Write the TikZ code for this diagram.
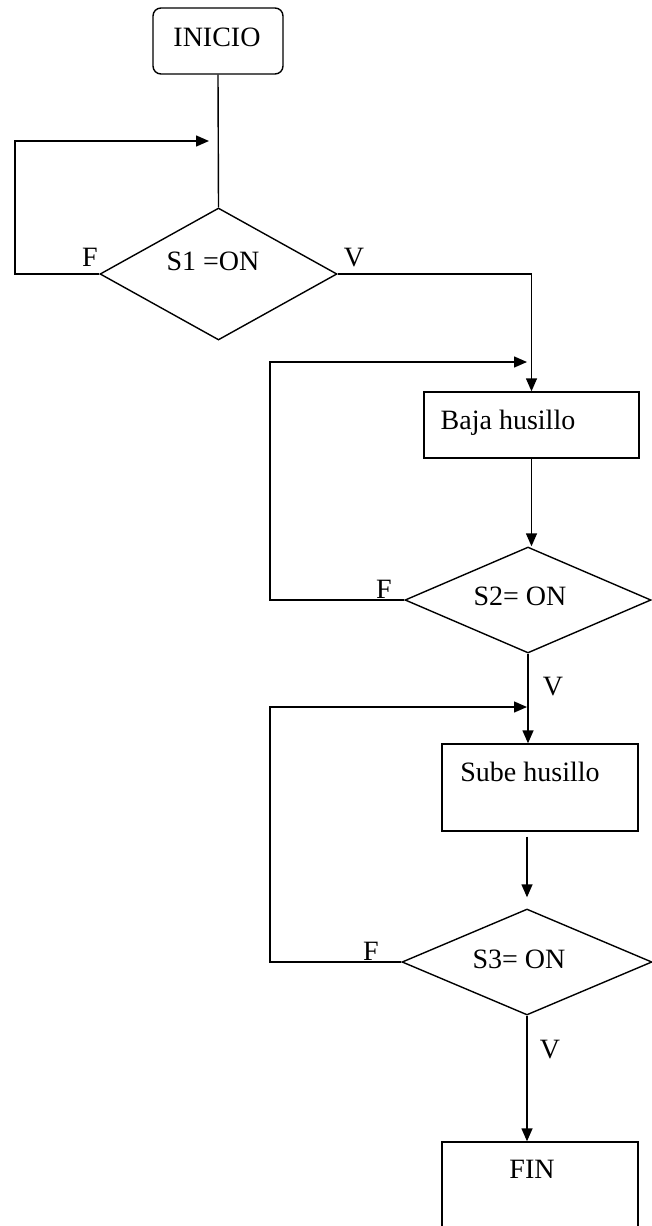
\documentclass[tikz,border=0pt]{standalone}
\usepackage{fontspec}
\setmainfont{Liberation Serif}
\usetikzlibrary{shapes.geometric,arrows.meta,calc}
\begin{document}
\begin{tikzpicture}[x=1pt,y=-1pt, line width=1.4pt,
  box/.style={draw, rectangle, inner sep=0pt},
  dec/.style={draw, diamond, inner sep=0pt},
  txt/.style={anchor=base, inner sep=0pt, font=\fontsize{28}{33}\selectfont},
  arr/.style={-{Triangle[length=13pt,width=11pt]}}]
\useasboundingbox (0,0) rectangle (652,1226);
\clip (0,0) rectangle (652,1226);

% shapes
\node[box, rounded corners=8pt, minimum width=130pt, minimum height=66pt] (inicio) at (218,41) {};
\node[dec, minimum width=237pt, minimum height=132pt] (d1) at (218.5,274) {};
\node[box, minimum width=215pt, minimum height=66pt] (baja) at (531.5,425) {};
\node[dec, minimum width=246pt, minimum height=106pt] (d2) at (528,600) {};
\node[box, minimum width=196pt, minimum height=87pt] (sube) at (540,787.5) {};
\node[dec, minimum width=250pt, minimum height=106pt] (d3) at (527,962) {};
\node[box, minimum width=196pt, minimum height=98pt] (fin) at (540,1191) {};

% texts
\node[txt] (tinicio) at (217,46.5) {INICIO};
\node[txt] (td1) at (213,270) {S1 =ON};
\node[txt] (f1) at (90,266.5) {F};
\node[txt] (v1) at (354,266.5) {V};
\node[txt] (tbaja) at (508,429) {Baja husillo};
\node[txt] (td2) at (520,605) {S2= ON};
\node[txt] (f2) at (384,598) {F};
\node[txt] (v2) at (553,695) {V};
\node[txt] (tsube) at (530,781.5) {Sube husillo};
\node[txt] (td3) at (519,968) {S3= ON};
\node[txt] (f3) at (371,960) {F};
\node[txt] (v3) at (550,1058) {V};
\node[txt] (tfin) at (532,1178) {FIN};

% loop corners and free ends
\coordinate (c1) at (15,141);
\coordinate (a1) at (209,141);
\coordinate (c2) at (270,362);
\coordinate (a2) at (527,362);
\coordinate (c3) at (270,707);
\coordinate (a3) at (527,707);

% connectors
\draw (inicio.south) -- (d1.north);
\draw[arr] (d1.west) -| (c1) -- (a1);
\draw[arr] (d1.east) -| (baja.north);
\draw[arr] (d2.west) -| (c2) -- (a2);
\draw[arr] (baja.south) -- (baja.south |- d2.north);
\draw[arr] (d2.south) -- (d2.south |- sube.north);
\draw[arr] (d3.west) -| (c3) -- (a3);
\draw[arr] ($(d3.north |- sube.south)+(0,5)$) -- ($(d3.north)+(0,-11)$);
\draw[arr] (d3.south) -- (d3.south |- fin.north);
\end{tikzpicture}
\end{document}
